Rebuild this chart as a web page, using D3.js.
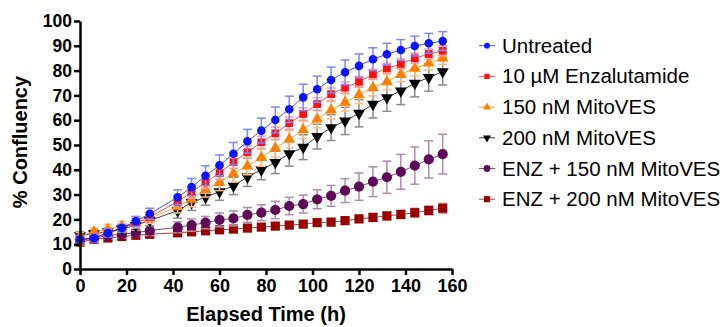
<!DOCTYPE html>
<html>
<head>
<meta charset="utf-8">
<script src="https://cdn.jsdelivr.net/npm/d3@7"></script>
<style>
  body { margin: 0; background: #fff; }
  svg { font-family: Arial, "Liberation Sans", sans-serif; }
</style>
</head>
<body>
<svg width="720" height="327"></svg>
<script>
const times = [0, 6, 12, 18, 24, 30, 42, 48, 54, 60, 66, 72, 78, 84, 90, 96, 102, 108, 114, 120, 126, 132, 138, 144, 150, 156];

const untreated = [12.0, 12.4, 14.5, 16.5, 19.2, 22.3, 28.9, 33.0, 37.6, 41.8, 46.5, 51.5, 55.8, 60.1, 64.4, 69.2, 72.5, 76.2, 79.3, 81.9, 84.6, 86.6, 88.3, 89.9, 91.0, 91.9];
const untreatedErr = [1.5, 1.5, 1.5, 1.5, 2, 2.2, 3, 3.5, 4, 4.2, 4.5, 4.8, 5, 5.2, 5.3, 5.3, 5.3, 5.2, 5, 4.8, 4.6, 4.4, 4.2, 4, 4, 3.8];

const enza = [11.2, 12.8, 14.5, 16.5, 18.5, 21.0, 27.1, 31.0, 35.0, 38.7, 43.1, 47.1, 51.1, 54.7, 58.8, 62.5, 66.5, 70.5, 73.1, 75.5, 78.5, 80.9, 82.7, 85.0, 86.7, 88.0];
const enzaErr = [1.5, 1.5, 1.5, 1.5, 1.8, 2, 2.5, 2.5, 2.5, 2.5, 2.5, 2.5, 2.5, 2.5, 2.5, 2.5, 2.5, 2.5, 2.3, 2.2, 2, 2, 2, 2, 2, 2];

const mito150 = [13.2, 15.0, 16.0, 17.2, 18.6, 20.4, 25.1, 28.1, 32.0, 34.8, 38.5, 41.5, 44.9, 48.7, 52.3, 56.1, 60.4, 64.1, 67.2, 70.2, 73.1, 75.5, 78.5, 80.9, 83.0, 85.0];
const mito150Err = [1.5, 1.5, 2, 2, 2, 2, 2.5, 3, 3, 3.2, 3.5, 3.5, 3.5, 3.5, 3.5, 3.5, 3.5, 3.5, 3.5, 3.5, 3.3, 3.2, 3, 3, 2.8, 2.5];

const mito200 = [13.5, 14.2, 15.0, 16.2, 17.6, 19.6, 23.5, 26.8, 29.0, 31.2, 33.5, 37.1, 40.0, 43.0, 46.5, 49.1, 53.4, 57.0, 59.7, 62.8, 66.4, 69.1, 71.8, 74.9, 77.2, 79.6];
const mito200Err = [1.5, 1.5, 1.5, 1.5, 2, 2.2, 3, 3.2, 3.3, 3.5, 3.5, 3.8, 4, 4.5, 5, 5, 5, 5.2, 5.5, 5.5, 5.5, 5.5, 5.5, 5.5, 5.5, 5.4];

const enz150 = [11.8, 12.4, 13.5, 14.0, 14.6, 15.5, 16.8, 17.7, 18.7, 19.8, 20.4, 21.8, 22.7, 23.8, 25.4, 26.2, 28.1, 29.5, 31.6, 33.2, 35.2, 37.0, 39.2, 41.7, 44.2, 46.3];
const enz150Err = [1.5, 1.5, 1.5, 1.5, 1.5, 2, 2.2, 2.5, 2.5, 2.8, 3, 3, 3.2, 3.5, 3.5, 3.6, 3.8, 4.2, 4.8, 5.5, 6, 6.5, 7, 7.5, 7.5, 8];

const enz200 = [10.8, 12.0, 12.5, 13.1, 13.6, 14.0, 14.6, 15.0, 15.4, 15.8, 16.1, 16.5, 16.9, 17.3, 17.7, 18.1, 18.7, 18.9, 19.5, 20.2, 20.8, 21.4, 22.0, 22.7, 23.6, 24.5];
const enz200Err = [1.2, 1.2, 1.2, 1.2, 1.2, 1.2, 1.2, 1.3, 1.3, 1.3, 1.3, 1.3, 1.3, 1.4, 1.4, 1.4, 1.4, 1.5, 1.5, 1.5, 1.6, 1.6, 1.7, 1.8, 1.8, 2];

const seriesNames = ['Untreated', '10 \u00b5M Enzalutamide', '150 nM MitoVES', '200 nM MitoVES', 'ENZ + 150 nM MitoVES', 'ENZ + 200 nM MitoVES'];
const xTicks = [0, 20, 40, 60, 80, 100, 120, 140, 160];
const yTicks = [0, 10, 20, 30, 40, 50, 60, 70, 80, 90, 100];

const series = [
  { name: seriesNames[0], values: untreated, err: untreatedErr, color: '#0a14ff', errColor: '#7f86f5', shape: d3.symbolCircle, size: 58, rot: 0 },
  { name: seriesNames[1], values: enza, err: enzaErr, color: '#ff1010', errColor: '#f79a9a', shape: d3.symbolSquare, size: 60, rot: 0 },
  { name: seriesNames[2], values: mito150, err: mito150Err, color: '#ff8000', errColor: '#f7bd85', shape: d3.symbolTriangle, size: 60, rot: 0 },
  { name: seriesNames[3], values: mito200, err: mito200Err, color: '#000000', errColor: '#8a8a8a', shape: d3.symbolTriangle, size: 62, rot: 180 },
  { name: seriesNames[4], values: enz150, err: enz150Err, color: '#5e0a58', errColor: '#b08aae', shape: d3.symbolCircle, size: 82, rot: 0 },
  { name: seriesNames[5], values: enz200, err: enz200Err, color: '#990000', errColor: '#dba0a0', shape: d3.symbolSquare, size: 84, rot: 0 }
];

const svg = d3.select('svg');

const x = d3.scaleLinear().domain([0, 160]).range([80, 452]);
const y = d3.scaleLinear().domain([0, 100]).range([269, 21]);

// draw bottom series first so Untreated ends up on top
series.slice().reverse().forEach(s => {
  const g = svg.append('g');
  const pts = times.map((t, i) => ({ t, v: s.values[i], e: s.err[i] }));

  const bars = g.append('g')
    .attr('stroke', s.errColor)
    .attr('stroke-width', 1.5)
    .attr('fill', 'none');
  pts.forEach(p => {
    bars.append('line')
      .attr('x1', x(p.t)).attr('x2', x(p.t))
      .attr('y1', y(p.v - p.e)).attr('y2', y(p.v + p.e));
    [p.v - p.e, p.v + p.e].forEach(c => {
      bars.append('line')
        .attr('x1', x(p.t) - 4.5).attr('x2', x(p.t) + 4.5)
        .attr('y1', y(c)).attr('y2', y(c));
    });
  });

  g.append('path')
    .datum(pts)
    .attr('fill', 'none')
    .attr('stroke', s.color)
    .attr('stroke-opacity', 0.75)
    .attr('stroke-width', 1)
    .attr('d', d3.line().x(d => x(d.t)).y(d => y(d.v)));

  g.selectAll('path.mark')
    .data(pts)
    .enter()
    .append('path')
    .attr('class', 'mark')
    .attr('d', d3.symbol().type(s.shape).size(s.size))
    .attr('fill', s.color)
    .attr('transform', d => `translate(${x(d.t)},${y(d.v)}) rotate(${s.rot})`);
});

const xAxis = d3.axisBottom(x).tickValues(xTicks).tickSize(6).tickSizeOuter(0).tickPadding(4);
const yAxis = d3.axisLeft(y).tickValues(yTicks).tickSize(6).tickSizeOuter(0).tickPadding(2);

const gx = svg.append('g')
  .attr('transform', 'translate(0,269)')
  .call(xAxis);
const gy = svg.append('g')
  .attr('transform', 'translate(80,0)')
  .call(yAxis);

[gx, gy].forEach(g => {
  g.select('.domain').attr('stroke', '#000').attr('stroke-width', 2.5);
  g.selectAll('.tick line').attr('stroke', '#000').attr('stroke-width', 2.5);
  g.selectAll('.tick text')
    .attr('fill', '#000')
    .attr('font-family', 'Arial, "Liberation Sans", sans-serif')
    .attr('font-weight', 'bold');
});
gx.selectAll('.tick text').attr('font-size', 18);
gy.selectAll('.tick text').attr('font-size', 17.5);

svg.append('text')
  .attr('x', 266)
  .attr('y', 321)
  .attr('text-anchor', 'middle')
  .attr('font-size', 20)
  .attr('font-weight', 'bold')
  .text('Elapsed Time (h)');

svg.append('text')
  .attr('transform', 'translate(27,142) rotate(-90)')
  .attr('text-anchor', 'middle')
  .attr('font-size', 20)
  .attr('font-weight', 'bold')
  .text('% Confluency');

// legend
const legend = svg.append('g');
series.forEach((s, i) => {
  const cy = 45.7 + i * 30.7;
  const row = legend.append('g');
  row.append('line')
    .attr('x1', 479).attr('x2', 495)
    .attr('y1', cy).attr('y2', cy)
    .attr('stroke', s.color)
    .attr('stroke-opacity', 0.75)
    .attr('stroke-width', 1);
  row.append('path')
    .attr('d', d3.symbol().type(s.shape).size(s.size * 0.45))
    .attr('fill', s.color)
    .attr('transform', `translate(487,${cy}) rotate(${s.rot})`);
  row.append('text')
    .attr('x', 502)
    .attr('y', cy + 7)
    .attr('font-size', 20.5)
    .attr('fill', '#000')
    .text(s.name);
});
</script>
</body>
</html>
